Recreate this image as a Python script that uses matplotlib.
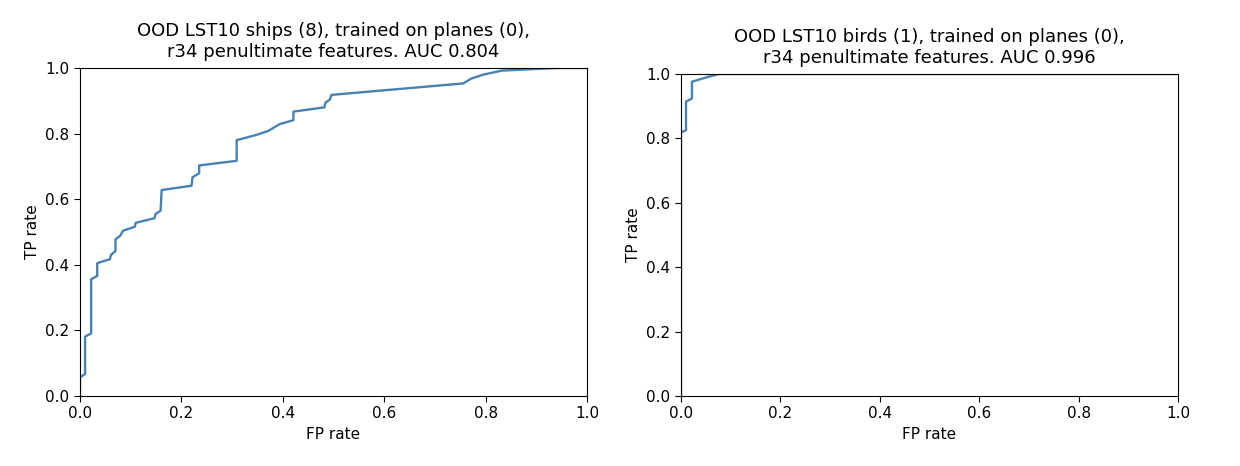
import matplotlib
matplotlib.use('Agg')
import matplotlib.pyplot as plt
import numpy as np

# ROC points
ships_fpr = [0.0, 0.0, 0.010, 0.010, 0.022, 0.022, 0.034, 0.034, 0.059, 0.061, 0.070, 0.070,
             0.079, 0.085, 0.108, 0.110, 0.147, 0.149, 0.159, 0.161, 0.220, 0.222, 0.235, 0.235,
             0.309, 0.309, 0.348, 0.371, 0.394, 0.421, 0.421, 0.482, 0.484, 0.493, 0.496,
             0.756, 0.772, 0.796, 0.832, 0.940, 1.0]
ships_tpr = [0.0, 0.057, 0.067, 0.181, 0.191, 0.356, 0.366, 0.405, 0.417, 0.430, 0.442, 0.478,
             0.488, 0.504, 0.516, 0.528, 0.542, 0.555, 0.565, 0.628, 0.641, 0.667, 0.679, 0.703,
             0.717, 0.780, 0.796, 0.808, 0.829, 0.841, 0.867, 0.880, 0.894, 0.904, 0.918,
             0.953, 0.968, 0.980, 0.992, 1.0, 1.0]

birds_fpr = [0.0, 0.0, 0.010, 0.010, 0.022, 0.022, 0.037, 0.057, 0.077, 1.0]
birds_tpr = [0.0, 0.818, 0.826, 0.914, 0.924, 0.976, 0.983, 0.992, 1.0, 1.0]

titles = ["OOD LST10 ships (8), trained on planes (0),\nr34 penultimate features. AUC 0.804",
          "OOD LST10 birds (1), trained on planes (0),\nr34 penultimate features. AUC 0.996"]

fig = plt.figure(figsize=(12.4, 4.66), dpi=100)
ax1 = fig.add_axes([80/1240, 70/466, 507/1240, 328/466])
ax2 = fig.add_axes([681/1240, 70/466, 497/1240, 322/466])

for ax, fpr, tpr, title in [(ax1, ships_fpr, ships_tpr, titles[0]),
                            (ax2, birds_fpr, birds_tpr, titles[1])]:
    ax.plot(fpr, tpr, color='#4682b4', linewidth=1.7)
    ax.set_xlim(0, 1)
    ax.set_ylim(0, 1)
    ax.set_xticks(np.arange(0, 1.01, 0.2))
    ax.set_yticks(np.arange(0, 1.01, 0.2))
    ax.tick_params(labelsize=11, length=4)
    ax.set_xlabel('FP rate', fontsize=11)
    ax.set_ylabel('TP rate', fontsize=11)
    ax.set_title(title, fontsize=13, pad=8)

plt.savefig('out.png', dpi=100)
